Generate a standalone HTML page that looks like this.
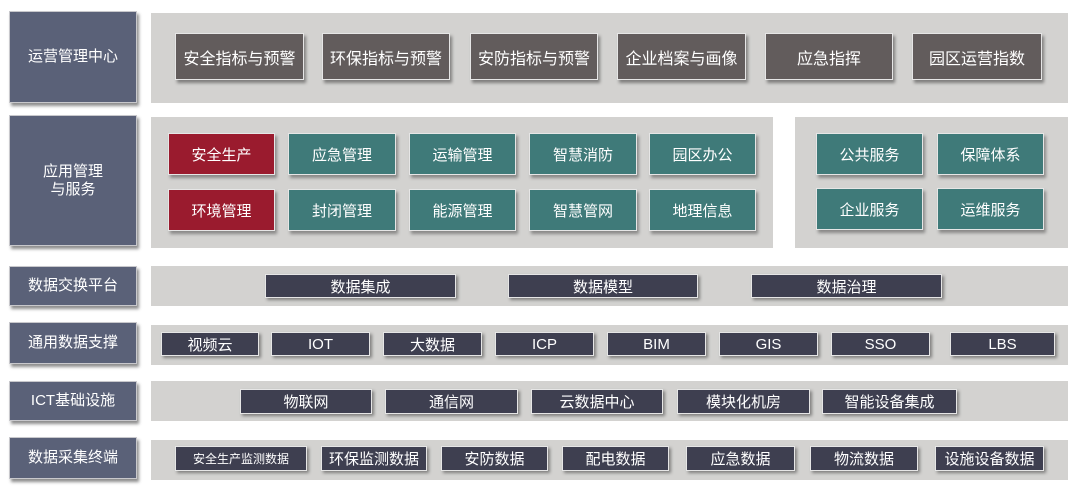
<!DOCTYPE html>
<html><head><meta charset="utf-8"><style>
body{margin:0;width:1080px;height:492px;background:#fff;position:relative;overflow:hidden;font-family:"Liberation Sans","Noto Sans CJK SC",sans-serif;}
div{position:absolute;box-sizing:border-box;display:flex;align-items:center;justify-content:center;color:#fff;text-align:center;}
.l{background:#5a6178;border:1px solid #c8c8cc;box-shadow:2px 3px 3px rgba(0,0,0,.45);font-size:15px;line-height:18px;left:9px;width:128px;}
.p{background:#d3d2d0;}
.h{background:#625c5c;border:1px solid #e6e6e6;box-shadow:2px 3px 3px rgba(0,0,0,.4);font-size:16px;top:33px;height:47px;}
.r{background:#9a1b2e;border:1px solid #e6e6e6;box-shadow:2px 3px 3px rgba(0,0,0,.35);font-size:15px;height:42px;}
.t{background:#3f7a79;border:1px solid #e6e6e6;box-shadow:2px 3px 3px rgba(0,0,0,.35);font-size:15px;height:42px;}
.d{background:#3e3f50;border:1px solid #e6e6e6;box-shadow:2px 2px 3px rgba(0,0,0,.4);font-size:15px;}
</style></head><body>
<div class="l" style="top:11px;height:92px">运营管理中心</div>
<div class="p" style="left:151px;top:13px;width:917px;height:90px"></div>
<div class="h" style="left:175px;width:129px">安全指标与预警</div>
<div class="h" style="left:322px;width:128px">环保指标与预警</div>
<div class="h" style="left:470px;width:128px">安防指标与预警</div>
<div class="h" style="left:617px;width:129px">企业档案与画像</div>
<div class="h" style="left:765px;width:128px">应急指挥</div>
<div class="h" style="left:912px;width:130px">园区运营指数</div>

<div class="l" style="top:115px;height:131px">应用管理<br>与服务</div>
<div class="p" style="left:151px;top:117px;width:622px;height:131px"></div>
<div class="p" style="left:795px;top:117px;width:273px;height:131px"></div>
<div class="r" style="left:168px;top:133px;width:107px">安全生产</div>
<div class="r" style="left:168px;top:189px;width:107px">环境管理</div>
<div class="t" style="left:288px;top:133px;width:108px">应急管理</div>
<div class="t" style="left:409px;top:133px;width:107px">运输管理</div>
<div class="t" style="left:529px;top:133px;width:108px">智慧消防</div>
<div class="t" style="left:649px;top:133px;width:107px">园区办公</div>
<div class="t" style="left:288px;top:189px;width:108px">封闭管理</div>
<div class="t" style="left:409px;top:189px;width:107px">能源管理</div>
<div class="t" style="left:529px;top:189px;width:108px">智慧管网</div>
<div class="t" style="left:649px;top:189px;width:107px">地理信息</div>
<div class="t" style="left:816px;top:133px;width:107px">公共服务</div>
<div class="t" style="left:937px;top:133px;width:107px">保障体系</div>
<div class="t" style="left:816px;top:188px;width:107px">企业服务</div>
<div class="t" style="left:937px;top:188px;width:107px">运维服务</div>

<div class="l" style="top:266px;height:40px">数据交换平台</div>
<div class="p" style="left:151px;top:266px;width:917px;height:40px"></div>
<div class="d" style="left:265px;top:274px;width:191px;height:24px">数据集成</div>
<div class="d" style="left:508px;top:274px;width:190px;height:24px">数据模型</div>
<div class="d" style="left:751px;top:274px;width:191px;height:24px">数据治理</div>

<div class="l" style="top:322px;height:42px">通用数据支撑</div>
<div class="p" style="left:151px;top:325px;width:917px;height:40px"></div>
<div class="d" style="left:161px;top:332px;width:98px;height:24px">视频云</div>
<div class="d" style="left:271px;top:332px;width:99px;height:24px">IOT</div>
<div class="d" style="left:383px;top:332px;width:99px;height:24px">大数据</div>
<div class="d" style="left:495px;top:332px;width:99px;height:24px">ICP</div>
<div class="d" style="left:607px;top:332px;width:99px;height:24px">BIM</div>
<div class="d" style="left:719px;top:332px;width:99px;height:24px">GIS</div>
<div class="d" style="left:831px;top:332px;width:99px;height:24px">SSO</div>
<div class="d" style="left:950px;top:332px;width:105px;height:24px">LBS</div>

<div class="l" style="top:381px;height:40px">ICT基础设施</div>
<div class="p" style="left:151px;top:381px;width:917px;height:40px"></div>
<div class="d" style="left:240px;top:389px;width:132px;height:25px">物联网</div>
<div class="d" style="left:385px;top:389px;width:133px;height:25px">通信网</div>
<div class="d" style="left:531px;top:389px;width:132px;height:25px">云数据中心</div>
<div class="d" style="left:677px;top:389px;width:133px;height:25px">模块化机房</div>
<div class="d" style="left:822px;top:389px;width:135px;height:25px">智能设备集成</div>

<div class="l" style="top:437px;height:42px">数据采集终端</div>
<div class="p" style="left:151px;top:440px;width:917px;height:40px"></div>
<div class="d" style="left:175px;top:446px;width:132px;height:25px;font-size:12px">安全生产监测数据</div>
<div class="d" style="left:321px;top:446px;width:106px;height:25px">环保监测数据</div>
<div class="d" style="left:441px;top:446px;width:107px;height:25px">安防数据</div>
<div class="d" style="left:562px;top:446px;width:107px;height:25px">配电数据</div>
<div class="d" style="left:686px;top:446px;width:109px;height:25px">应急数据</div>
<div class="d" style="left:810px;top:446px;width:108px;height:25px">物流数据</div>
<div class="d" style="left:935px;top:446px;width:109px;height:25px">设施设备数据</div>
</body></html>
